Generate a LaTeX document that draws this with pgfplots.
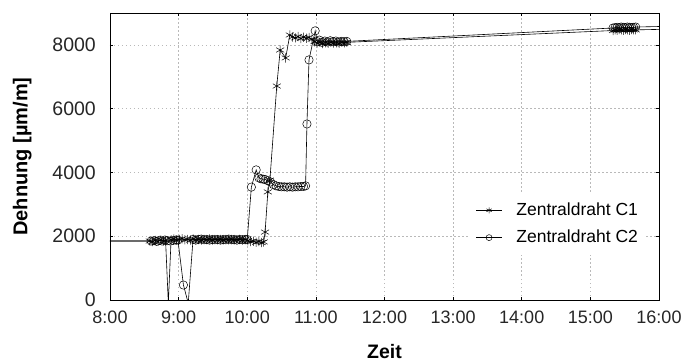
\documentclass[border=0pt]{standalone}
\usepackage{fontspec}
\setmainfont{Liberation Sans}
\usepackage{pgfplots}
\pgfplotsset{compat=1.18}
\begin{document}
\fontsize{18bp}{21bp}\selectfont
\begin{tikzpicture}
\path[use as bounding box] (-110bp,-62bp) rectangle (588bp,300bp);
\begin{axis}[
  at={(0,0)}, anchor=south west,
  scale only axis, width=549bp, height=287bp,
  xmin=8, xmax=16, ymin=0, ymax=9000,
  xtick={8,9,10,11,12,13,14,15,16},
  xticklabels={8:00,9:00,10:00,11:00,12:00,13:00,14:00,15:00,16:00},
  ytick={0,2000,4000,6000,8000},
  /pgf/number format/1000 sep={},
  /pgf/number format/assume math mode=true,
  tick label style={text=black!85},
  xticklabel style={yshift=-5bp, font=\fontsize{18bp}{21bp}\selectfont},
  yticklabel style={xshift=-8bp, font=\fontsize{19.5bp}{23bp}\selectfont},
  every axis x label/.style={at={(axis description cs:0.5,-0.178)}, anchor=center, font=\fontsize{19.5bp}{23bp}\selectfont\bfseries},
  every axis y label/.style={at={(axis description cs:-0.160,0.5)}, rotate=90, anchor=center, font=\fontsize{20bp}{23bp}\selectfont\bfseries},
  xlabel={Zeit}, ylabel={Dehnung [µm/m]},
  grid=major,
  major grid style={gray!55, dash pattern=on 1.5bp off 2.5bp, line width=0.6bp},
  tick align=inside, major tick length=3bp,
  tick style={black, line width=0.5bp},
  axis line style={line width=0.9bp},
  clip mode=global,
  legend style={at={(0.655,0.375)}, anchor=north west, draw=none, fill=white,
    font=\fontsize{17.5bp}{21bp}\selectfont, row sep=8bp, inner xsep=6bp, inner ysep=8bp,
    /tikz/every odd column/.append style={column sep=12bp}},
  legend cell align=left,
  legend image code/.code={\draw[mark repeat=2,mark phase=2,mark size=3bp] plot coordinates {(0bp,0bp)(13bp,0bp)(26bp,0bp)};},
]
\addplot[black, line width=0.6bp, mark=asterisk, mark size=4.6bp, mark options={line width=0.5bp}] coordinates {
(7.50,1850)(8.58,1850)(8.62,1830)(8.66,1870)(8.70,1840)(8.74,1880)(8.78,1850)(8.81,1860)(8.85,-100)(8.89,1890)(8.93,1910)(8.97,1880)(9.01,1900)(9.05,1920)(9.09,1890)(9.13,1900)(9.17,1880)(9.21,1910)(9.25,1890)(9.29,1900)(9.33,1880)(9.37,1900)(9.41,1890)(9.45,1910)(9.49,1880)(9.53,1900)(9.57,1890)(9.61,1900)(9.65,1880)(9.69,1900)(9.73,1890)(9.77,1900)(9.81,1880)(9.85,1890)(9.89,1900)(9.93,1880)(9.97,1890)(10.01,1860)(10.05,1830)(10.09,1840)(10.13,1810)(10.17,1830)(10.21,1800)(10.24,1820)(10.26,2130)(10.30,3390)(10.33,3760)(10.43,6710)(10.48,7840)(10.56,7590)(10.62,8310)(10.66,8250)(10.70,8220)(10.74,8260)(10.78,8200)(10.82,8240)(10.86,8210)(10.90,8230)(10.94,8180)(10.98,8100)(11.02,8060)(11.06,8080)(11.10,8040)(11.14,8070)(11.18,8050)(11.22,8080)(11.26,8060)(11.30,8070)(11.34,8050)(11.38,8080)(11.42,8070)(11.45,8080)(15.33,8450)(15.36,8470)(15.39,8460)(15.42,8480)(15.45,8470)(15.48,8460)(15.51,8480)(15.54,8470)(15.57,8460)(15.60,8480)(15.63,8470)(15.66,8470)(16.50,8510)
};
\addlegendentry{Zentraldraht C1}
\addplot[black, line width=0.6bp, mark=o, mark size=4.2bp, mark options={line width=0.5bp}] coordinates {
(7.50,1850)(8.60,1850)(8.64,1860)(8.68,1840)(8.72,1870)(8.76,1850)(8.80,1880)(8.84,1860)(8.88,1850)(8.92,1870)(8.96,1880)(8.99,1880)(9.07,470)(9.14,-100)(9.21,1900)(9.25,1880)(9.29,1900)(9.33,1910)(9.37,1890)(9.41,1900)(9.45,1880)(9.49,1900)(9.53,1890)(9.57,1900)(9.61,1880)(9.65,1900)(9.69,1890)(9.73,1910)(9.77,1890)(9.81,1900)(9.85,1880)(9.89,1900)(9.93,1890)(9.97,1900)(10.00,1900)(10.06,3540)(10.13,4080)(10.17,3830)(10.20,3800)(10.23,3790)(10.26,3780)(10.30,3740)(10.34,3700)(10.38,3620)(10.42,3580)(10.46,3560)(10.50,3550)(10.54,3550)(10.58,3540)(10.62,3550)(10.66,3540)(10.70,3550)(10.74,3550)(10.78,3560)(10.82,3560)(10.85,3580)(10.87,5520)(10.90,7530)(10.99,8440)(11.02,8100)(11.05,8150)(11.09,8080)(11.13,8120)(11.17,8090)(11.21,8130)(11.25,8100)(11.29,8120)(11.33,8090)(11.37,8110)(11.41,8100)(11.45,8110)(15.33,8530)(15.36,8540)(15.39,8550)(15.42,8540)(15.45,8560)(15.48,8550)(15.51,8540)(15.54,8560)(15.57,8550)(15.60,8540)(15.63,8550)(15.66,8560)(16.50,8600)
};
\addlegendentry{Zentraldraht C2}
\end{axis}
\end{tikzpicture}
\end{document}
